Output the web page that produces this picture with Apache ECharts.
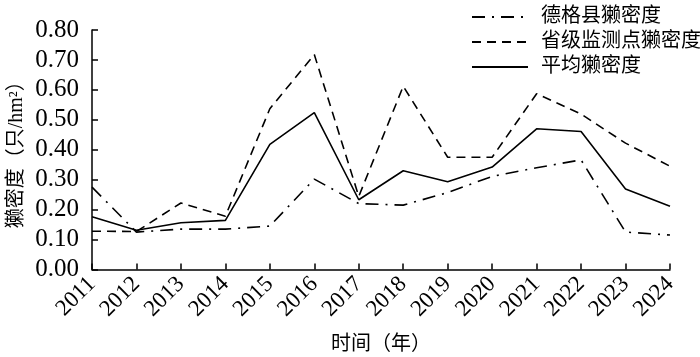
<!DOCTYPE html>
<html><head><meta charset="utf-8">
<script src="https://cdn.jsdelivr.net/npm/echarts@6/dist/echarts.min.js"></script>
<style>html,body{margin:0;padding:0;background:#fff}#c{width:700px;height:357px}</style>
</head><body><div id="c"></div>
<script>
const years = ['2011','2012','2013','2014','2015','2016','2017','2018','2019','2020','2021','2022','2023','2024'];
const degeDensity = [0.275,0.125,0.135,0.135,0.145,0.302,0.22,0.215,0.257,0.311,0.34,0.366,0.125,0.115];
const provincialDensity = [0.128,0.127,0.222,0.178,0.537,0.718,0.244,0.612,0.375,0.375,0.587,0.519,0.422,0.345];
const avgDensity = [0.176,0.131,0.156,0.164,0.418,0.524,0.233,0.33,0.293,0.342,0.47,0.461,0.269,0.211];
const yTicks = {min:0, max:0.8, interval:0.1};

const serif = '"Liberation Serif","Noto Sans CJK SC",serif';
const chart = echarts.init(document.getElementById('c'));
const mk = (name, data, type) => ({
  name, type:'line', data, symbol:'none', smooth:false,
  lineStyle:{color:'#000', width:1.6, type},
  itemStyle:{color:'#000'}
});
chart.setOption({
  animation:false,
  grid:{left:92, right:30, top:30, bottom:87.5, containLabel:false, outerBoundsMode:'none'},
  legend:{
    orient:'vertical', left:466, top:2, itemGap:5, itemWidth:56, itemHeight:20,
    itemStyle:{opacity:0},
    textStyle:{fontFamily:serif, fontSize:20, color:'#000', padding:[0,0,0,8]},
    data:['德格县獭密度','省级监测点獭密度','平均獭密度']
  },
  xAxis:{
    type:'category', data:years, boundaryGap:false,
    name:'时间（年）', nameLocation:'middle', nameGap:65, nameMoveOverlap:false,
    nameTextStyle:{fontFamily:serif, fontSize:20, color:'#000'},
    axisLine:{lineStyle:{color:'#000', width:1.5}},
    axisTick:{inside:true, length:6, interval:0, lineStyle:{color:'#000', width:1.5}},
    axisLabel:{rotate:45, interval:0, hideOverlap:false, fontFamily:serif, fontSize:23, color:'#000', margin:11},
    splitLine:{show:false}
  },
  yAxis:{
    type:'value', min:yTicks.min, max:yTicks.max, interval:yTicks.interval,
    name:'獭密度（只/hm²）', nameLocation:'middle', nameGap:65, nameRotate:90, nameMoveOverlap:false,
    nameTextStyle:{fontFamily:serif, fontSize:20, color:'#000'},
    axisLine:{show:true, lineStyle:{color:'#000', width:1.5}},
    axisTick:{show:true, inside:true, length:6, lineStyle:{color:'#000', width:1.5}},
    axisLabel:{fontFamily:serif, fontSize:25, color:'#000', margin:13, formatter:v=>v.toFixed(2)},
    splitLine:{show:false}
  },
  series:[
    mk('德格县獭密度', degeDensity, [13,7,2,7]),
    mk('省级监测点獭密度', provincialDensity, [9,6]),
    mk('平均獭密度', avgDensity, 'solid')
  ]
});
</script></body></html>
